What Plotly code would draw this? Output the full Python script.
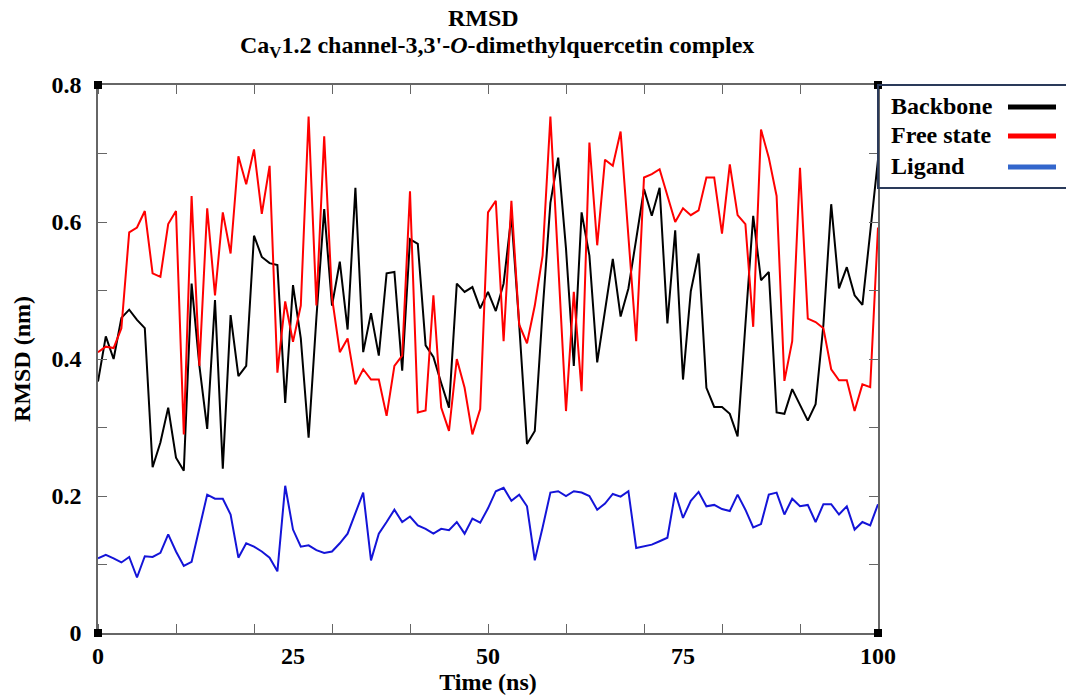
import plotly.graph_objects as go

time_ns = list(range(0, 101))

backbone = [0.367, 0.433, 0.400, 0.460, 0.472, 0.457, 0.445, 0.242, 0.278, 0.329,
            0.256, 0.237, 0.510, 0.390, 0.298, 0.486, 0.240, 0.464, 0.375, 0.390,
            0.580, 0.549, 0.540, 0.537, 0.336, 0.508, 0.430, 0.285, 0.460, 0.619,
            0.478, 0.542, 0.443, 0.650, 0.410, 0.467, 0.405, 0.525, 0.527, 0.383,
            0.575, 0.568, 0.420, 0.403, 0.365, 0.329, 0.510, 0.498, 0.505, 0.474,
            0.498, 0.470, 0.510, 0.609, 0.450, 0.276, 0.295, 0.470, 0.628, 0.694,
            0.561, 0.390, 0.614, 0.551, 0.395, 0.474, 0.546, 0.462, 0.503, 0.575,
            0.648, 0.609, 0.650, 0.452, 0.588, 0.370, 0.499, 0.554, 0.358, 0.330,
            0.330, 0.320, 0.287, 0.450, 0.609, 0.515, 0.527, 0.322, 0.320, 0.356,
            0.334, 0.310, 0.334, 0.450, 0.626, 0.503, 0.534, 0.493, 0.479, 0.589,
            0.691]

free_state = [0.410, 0.418, 0.416, 0.445, 0.585, 0.592, 0.616, 0.525, 0.520, 0.597,
              0.616, 0.290, 0.638, 0.390, 0.620, 0.493, 0.614, 0.554, 0.696, 0.655,
              0.706, 0.612, 0.682, 0.380, 0.484, 0.425, 0.478, 0.754, 0.478, 0.725,
              0.490, 0.410, 0.430, 0.363, 0.385, 0.370, 0.370, 0.317, 0.390, 0.405,
              0.645, 0.322, 0.325, 0.493, 0.329, 0.295, 0.400, 0.358, 0.290, 0.327,
              0.614, 0.631, 0.426, 0.631, 0.450, 0.423, 0.478, 0.551, 0.754, 0.537,
              0.324, 0.498, 0.353, 0.716, 0.566, 0.691, 0.682, 0.732, 0.575, 0.426,
              0.665, 0.670, 0.677, 0.638, 0.600, 0.620, 0.610, 0.617, 0.665, 0.665,
              0.583, 0.684, 0.610, 0.597, 0.447, 0.735, 0.694, 0.638, 0.368, 0.426,
              0.679, 0.459, 0.454, 0.445, 0.385, 0.369, 0.369, 0.324, 0.363, 0.359,
              0.592]

ligand = [0.109, 0.114, 0.109, 0.103, 0.111, 0.081, 0.112, 0.111, 0.117, 0.144,
          0.119, 0.098, 0.104, 0.151, 0.202, 0.196, 0.196, 0.173, 0.110, 0.131,
          0.126, 0.119, 0.110, 0.090, 0.215, 0.151, 0.126, 0.128, 0.121, 0.117,
          0.119, 0.131, 0.145, 0.175, 0.205, 0.106, 0.145, 0.162, 0.180, 0.162,
          0.170, 0.157, 0.152, 0.145, 0.152, 0.150, 0.162, 0.145, 0.167, 0.161,
          0.182, 0.207, 0.212, 0.193, 0.202, 0.185, 0.106, 0.154, 0.205, 0.207,
          0.200, 0.207, 0.205, 0.200, 0.180, 0.189, 0.203, 0.199, 0.207, 0.124,
          0.126, 0.129, 0.134, 0.139, 0.205, 0.168, 0.193, 0.206, 0.185, 0.187,
          0.181, 0.178, 0.202, 0.180, 0.154, 0.159, 0.202, 0.205, 0.173, 0.196,
          0.185, 0.187, 0.162, 0.188, 0.188, 0.173, 0.185, 0.151, 0.162, 0.157,
          0.188]

series_names = ["Backbone", "Free state", "Ligand"]
line_colors = ["#000000", "#ff0000", "#1414d8"]
legend_colors = ["#000000", "#ff0000", "#3366cc"]

x_label_vals = [0, 25, 50, 75, 100]
x_tick_vals = list(range(0, 101, 10))
y_label_vals = [0, 0.2, 0.4, 0.6, 0.8]
y_label_text = ["0", "0.2", "0.4", "0.6", "0.8"]

FONT = "Liberation Serif, Times New Roman, serif"
AXC = "#666666"

fig = go.Figure()
for name, ys, col in zip(series_names, [backbone, free_state, ligand], line_colors):
    fig.add_trace(go.Scatter(x=time_ns, y=ys, mode="lines", name=name,
                             line=dict(color=col, width=2), showlegend=False))

W, H = 1066, 695
L, R, T, B = 98, 188, 85, 62
pw, ph = W - L - R, H - T - B

def px2paper_x(px):
    return (px - L) / pw

def px2paper_y(py):
    return (H - B - py) / ph

shapes = []
# corner squares
for cx, cy in [(0, 1), (0, 0), (1, 0), (1, 1)]:
    shapes.append(dict(type="rect", xref="paper", yref="paper",
                       xsizemode="pixel", ysizemode="pixel",
                       xanchor=cx, yanchor=cy, x0=-4, x1=4, y0=-4, y1=4,
                       fillcolor="black", line=dict(width=0)))
# legend box
shapes.append(dict(type="rect", xref="paper", yref="paper",
                   x0=1.0, x1=px2paper_x(1070), y0=px2paper_y(188), y1=1.0,
                   line=dict(color="#2a3a5a", width=2), fillcolor="rgba(0,0,0,0)"))
annotations = []
leg_y = [106, 135, 166]
for name, col, yy in zip(series_names, legend_colors, leg_y):
    annotations.append(dict(xref="paper", yref="paper", x=px2paper_x(889), y=px2paper_y(yy),
                            xanchor="left", yanchor="middle", showarrow=False,
                            text="<b>%s</b>" % name,
                            font=dict(family=FONT, size=24, color="black")))
    shapes.append(dict(type="line", xref="paper", yref="paper",
                       x0=px2paper_x(1008), x1=px2paper_x(1056),
                       y0=px2paper_y(yy + 1), y1=px2paper_y(yy + 1),
                       line=dict(color=col, width=5)))

# title lines
annotations.append(dict(xref="paper", yref="paper", x=px2paper_x(483), y=px2paper_y(18),
                        xanchor="center", yanchor="middle", showarrow=False,
                        text="<b>RMSD</b>", font=dict(family=FONT, size=24, color="black")))
annotations.append(dict(xref="paper", yref="paper", x=px2paper_x(497), y=px2paper_y(47),
                        xanchor="center", yanchor="middle", showarrow=False,
                        text="<b>Ca<sub>V</sub>1.2 channel-3,3'-<i>O</i>-dimethylquercetin complex</b>",
                        font=dict(family=FONT, size=24, color="black")))

fig.update_layout(
    width=W, height=H,
    margin=dict(l=L, r=R, t=T, b=B, pad=0, autoexpand=False),
    paper_bgcolor="white", plot_bgcolor="white",
    shapes=shapes, annotations=annotations,
    font=dict(family=FONT, size=24, color="black"),
    xaxis=dict(range=[0, 100], tickmode="array", tickvals=x_label_vals,
               ticktext=["<b>%d</b>" % v for v in x_label_vals],
               ticks="", showgrid=False, zeroline=False, automargin=False,
               showline=True, linecolor=AXC, linewidth=1.5, mirror="ticks",
               minor=dict(tickvals=x_tick_vals, ticks="inside", ticklen=9,
                          tickcolor=AXC, tickwidth=1.2, showgrid=False),
               tickfont=dict(family=FONT, size=24, color="black"),
               ticklabelstandoff=0,
               title=dict(text="<b>Time (ns)</b>", standoff=6,
                          font=dict(family=FONT, size=24, color="black"))),
    yaxis=dict(range=[0, 0.8], tickmode="array", tickvals=y_label_vals,
               ticktext=["<b>%s</b>" % t for t in y_label_text],
               ticks="inside", ticklen=9, tickcolor=AXC, tickwidth=1.2,
               showgrid=False, zeroline=False, automargin=False,
               showline=True, linecolor=AXC, linewidth=1.5, mirror="ticks",
               minor=dict(dtick=0.1, tick0=0, ticks="inside", ticklen=9,
                          tickcolor=AXC, tickwidth=1.2, showgrid=False),
               tickfont=dict(family=FONT, size=24, color="black"),
               ticklabelstandoff=10,
               title=dict(text="<b>RMSD (nm)</b>", standoff=14,
                          font=dict(family=FONT, size=24, color="black"))),
)

fig.write_html("out.html", config={"displayModeBar": False},
               post_script="document.body.style.margin='0';document.body.style.overflow='hidden';")
